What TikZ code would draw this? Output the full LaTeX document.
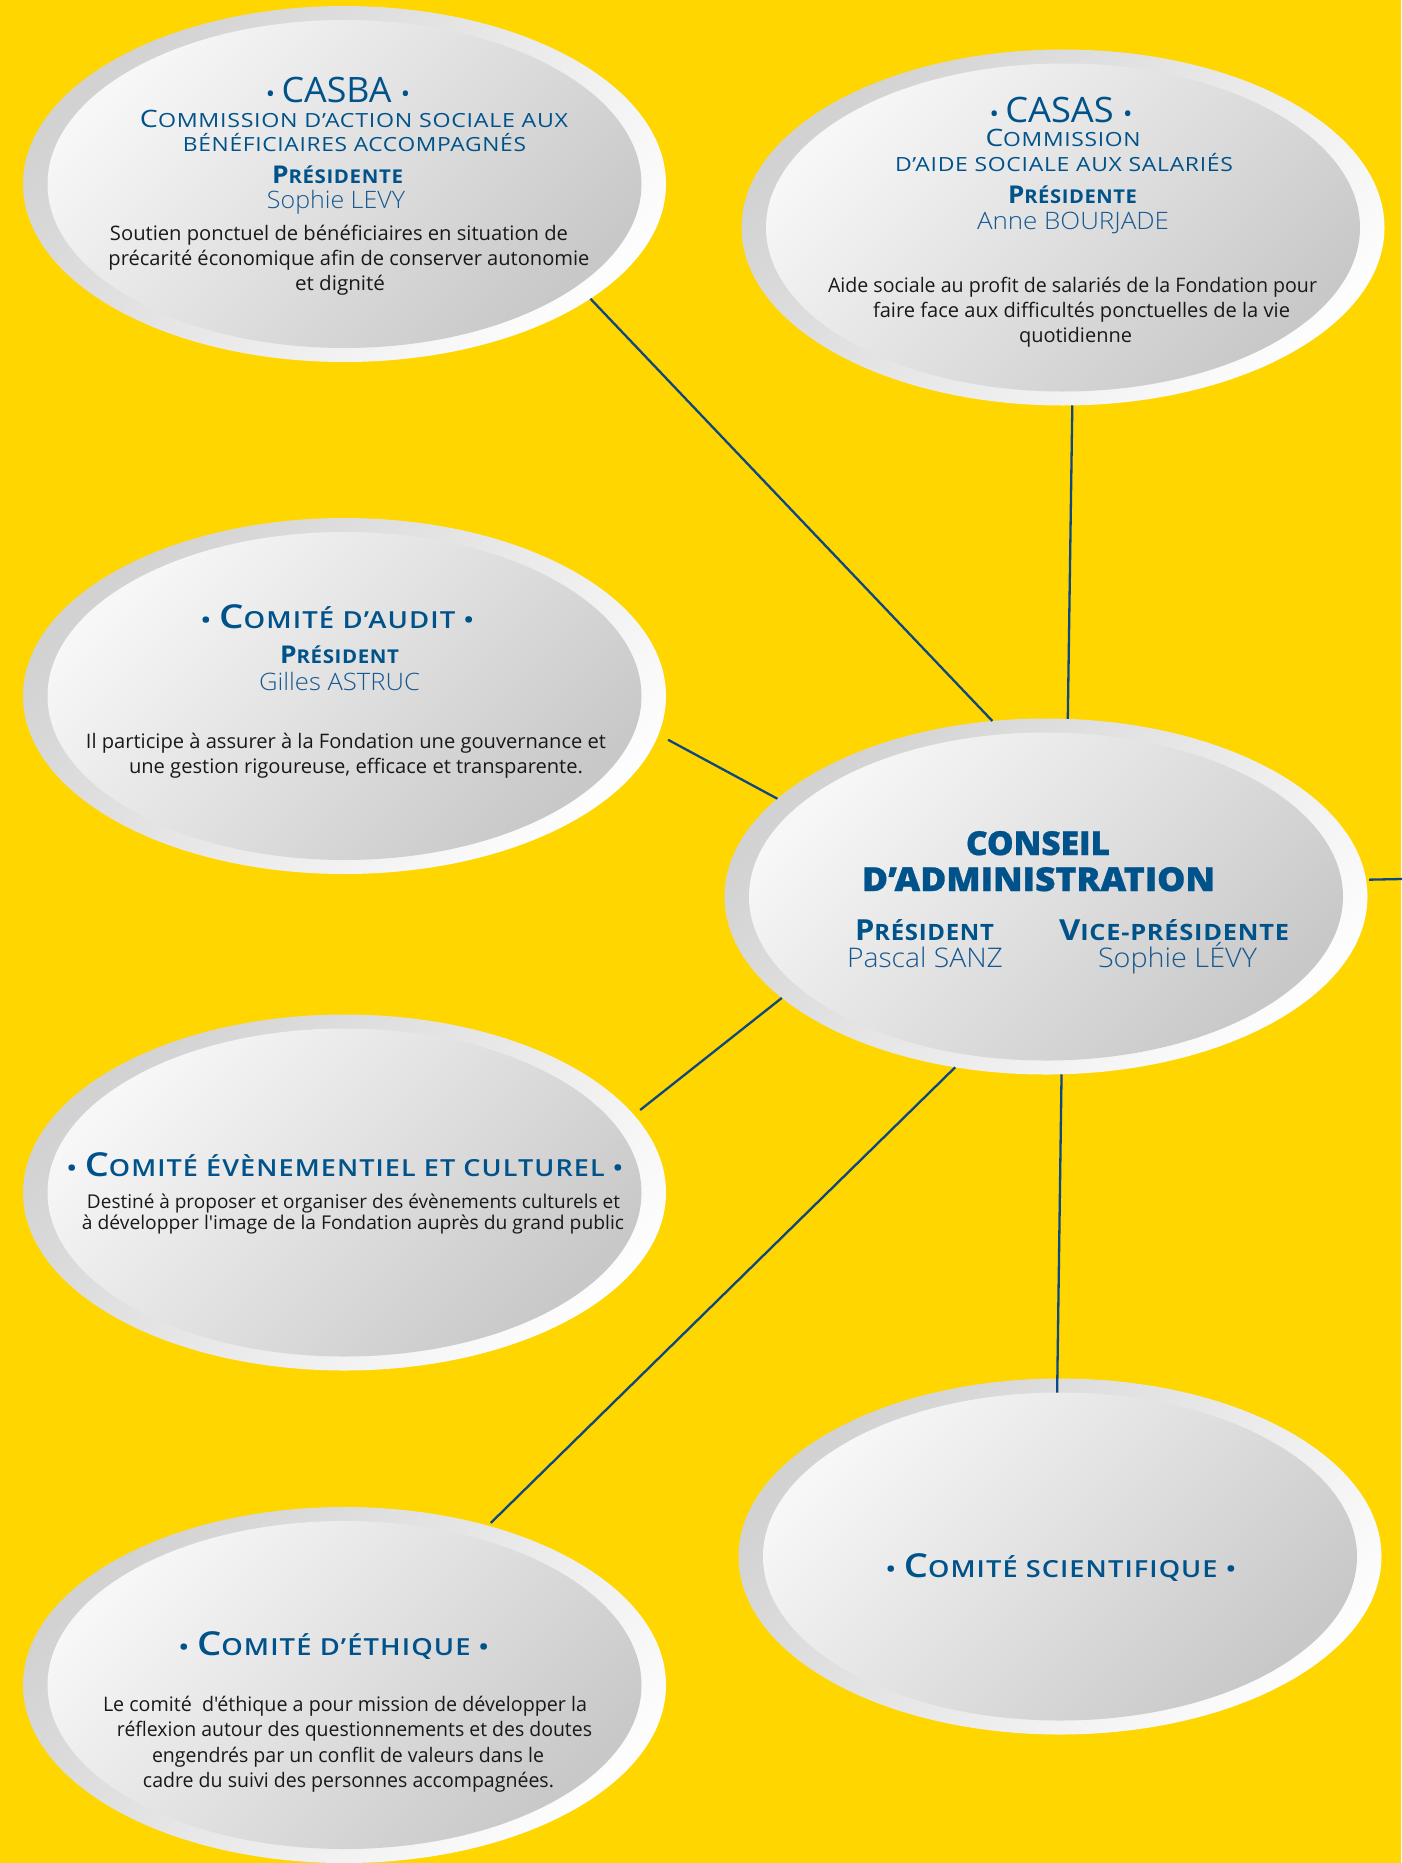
\documentclass[tikz,border=0pt]{standalone}
\usepackage{fontspec}
\usepackage{graphicx}
\usetikzlibrary{shapes.geometric}
\setmainfont{Open Sans}
\newfontfamily\bodyf{Open Sans}
\IfFontExistsTF{OpenSans-Light.ttf}{\newfontfamily\lightf{OpenSans-Light.ttf}}{%
  \IfFontExistsTF{OpenSans-Light.otf}{\newfontfamily\lightf{OpenSans-Light.otf}}{%
    \IfFontExistsTF{FiraSans-Light.otf}{\newfontfamily\lightf{FiraSans-Light.otf}}{\newfontfamily\lightf{Open Sans}}}}
\IfFontExistsTF{OpenSans-Semibold.ttf}{\newfontfamily\semif{OpenSans-Semibold.ttf}[LetterSpace=4]}{%
  \IfFontExistsTF{OpenSans-SemiBold.ttf}{\newfontfamily\semif{OpenSans-SemiBold.ttf}[LetterSpace=4]}{%
    \newfontfamily\semif{Open Sans}[FakeBold=0.8,LetterSpace=4]}}
\IfFontExistsTF{OpenSans-ExtraBold.ttf}{\newfontfamily\heavyf{OpenSans-ExtraBold.ttf}[FakeBold=0.9]\newcommand\heavy{\heavyf}}{%
  \IfFontExistsTF{OpenSans-ExtraBold.otf}{\newfontfamily\heavyf{OpenSans-ExtraBold.otf}[FakeBold=0.9]\newcommand\heavy{\heavyf}}{%
    \newfontfamily\heavyf{Open Sans}[BoldFeatures={FakeBold=2.2}]\newcommand\heavy{\heavyf\bfseries}}}
\newfontfamily\scf{Open Sans}[LetterSpace=3]
\newcommand\fs[1]{\fontsize{#1}{#1}\selectfont}
\newcommand\fitto[2]{\resizebox{#1pt}{\height}{#2}}
\definecolor{bgyellow}{RGB}{255,214,0}
\definecolor{headblue}{RGB}{0,82,138}
\definecolor{nameblue}{RGB}{22,88,145}
\definecolor{bodyc}{RGB}{25,25,25}
\definecolor{lineblue}{RGB}{14,72,128}
\definecolor{ringA}{RGB}{210,210,210}
\definecolor{ringB}{RGB}{253,253,253}
\definecolor{inA}{RGB}{247,247,247}
\definecolor{inB}{RGB}{200,200,200}
\tikzset{
  outerell/.style={ellipse, minimum width=643pt, minimum height=356pt, inner sep=0pt, outer sep=0pt,
    top color=ringA, bottom color=ringB, shading angle=45},
  innerell/.style={ellipse, minimum width=594pt, minimum height=328pt, inner sep=0pt, outer sep=0pt,
    top color=inA, bottom color=inB, shading angle=45},
  conn/.style={draw=lineblue, line width=2.3pt},
  tline/.style={anchor=base, inner sep=0pt, outer sep=0pt},
  hd/.style={tline, text=headblue},
  nm/.style={tline, text=nameblue},
  bd/.style={tline, text=bodyc, font=\bodyf\fs{20}},
}
\begin{document}
\begin{tikzpicture}[x=1pt,y=-1pt]
\useasboundingbox (0,0) rectangle (1401,1863);
\fill[bgyellow] (0,0) rectangle (1401,1863);
% ellipses
\node[outerell] (casba) at (344.5,184) {};
\node[innerell] (casbain) at (344.5,184) {};
\node[outerell] (casas) at (1063,227.5) {};
\node[innerell] (casasin) at (1063,227.5) {};
\node[outerell] (audit) at (344.5,696) {};
\node[innerell] (auditin) at (344.5,696) {};
\node[outerell] (ca) at (1046,896.5) {};
\node[innerell] (cain) at (1046,896.5) {};
\node[outerell] (even) at (344.5,1192.5) {};
\node[innerell] (evenin) at (344.5,1192.5) {};
\node[outerell] (sci) at (1060,1556.5) {};
\node[innerell] (sciin) at (1060,1556.5) {};
\node[outerell] (eth) at (344.5,1685) {};
\node[innerell] (ethin) at (344.5,1685) {};
% connectors
\draw[conn] (casba.-25.5) -- (ca.107.3);
\draw[conn] (casas.-87.1) -- (ca.83.6);
\draw[conn, shorten <=11pt] (audit.-7) -- (ca.160.6);
\draw[conn, shorten <=8pt] (even.15.4) -- (ca.201.5);
\draw[conn, shorten <=4pt] (eth.48.65) -- (ca.242.8);
\draw[conn] (sciin.91.7) -- (ca.-85.5);
\coordinate (stubend) at (1402,879);
\draw[conn, shorten <=3pt] (ca.3.1) -- (stubend);
% CASBA
\node[hd] (casbaT) at (338,102) {\fitto{144}{\fs{24}• \fs{35}CASBA \fs{24}•}};
\node[hd] (casbaS1) at (354,127) {\fitto{428}{\scf\fs{24}C\fs{19.5}OMMISSION D’ACTION SOCIALE AUX}};
\node[hd] (casbaS2) at (354.5,151) {\fitto{343}{\scf\fs{19.5}BÉNÉFICIAIRES ACCOMPAGNÉS}};
\node[hd] (casbaP) at (337.5,183) {\fitto{131}{\scf\bfseries\fs{24.5}P\fs{19}RÉSIDENTE}};
\node[nm] (casbaN) at (336,208) {\fitto{138}{\lightf\fs{24}Sophie LEVY}};
\node[bd] (casbaB1) at (339,240) {\fitto{458}{Soutien ponctuel de bénéficiaires en situation de}};
\node[bd] (casbaB2) at (349,265) {\fitto{481}{précarité économique afin de conserver autonomie}};
\node[bd] (casbaB3) at (340,290) {\fitto{90}{et dignité}};
% CASAS
\node[hd] (casasT) at (1061,122) {\fitto{143}{\fs{24}• \fs{35}CASAS \fs{24}•}};
\node[hd] (casasS1) at (1063,146) {\fitto{155}{\scf\fs{24}C\fs{19.5}OMMISSION}};
\node[hd] (casasS2) at (1064,171) {\fitto{338}{\scf\fs{19.5}D’AIDE SOCIALE AUX SALARIÉS}};
\node[hd] (casasP) at (1072.5,203) {\fitto{129}{\scf\bfseries\fs{24.5}P\fs{19}RÉSIDENTE}};
\node[nm] (casasN) at (1073,229) {\fitto{192}{\lightf\fs{24}Anne BOURJADE}};
\node[bd] (casasB1) at (1072.5,292) {\fitto{489}{Aide sociale au profit de salariés de la Fondation pour}};
\node[bd] (casasB2) at (1081.5,317) {\fitto{417}{faire face aux difficultés ponctuelles de la vie}};
\node[bd] (casasB3) at (1075.5,342) {\fitto{113}{quotidienne}};
% Comite d'audit
\node[hd] (auditT) at (337.5,628) {\fitto{273}{\semif\fs{23}• \fs{33}C\fs{23.5}OMITÉ D’AUDIT •}};
\node[hd] (auditP) at (339.5,663) {\fitto{119}{\scf\bfseries\fs{24.5}P\fs{19}RÉSIDENT}};
\node[nm] (auditN) at (339.5,690) {\fitto{161}{\lightf\fs{24}Gilles ASTRUC}};
\node[bd] (auditB1) at (346,748) {\fitto{520}{Il participe à assurer à la Fondation une gouvernance et}};
\node[bd] (auditB2) at (356,773) {\fitto{454}{une gestion rigoureuse, efficace et transparente.}};
% Conseil d'administration
\node[hd] (caT1) at (1038,855) {\fitto{144}{\heavy\fs{33}CONSEIL}};
\node[hd] (caT2) at (1038.5,891) {\fitto{353}{\heavy\fs{33}D’ADMINISTRATION}};
\node[hd] (caP) at (924.5,940) {\fitto{139}{\scf\bfseries\fs{29}P\fs{22.5}RÉSIDENT}};
\node[nm] (caPN) at (925,967) {\fitto{156}{\lightf\fs{27}Pascal SANZ}};
\node[hd] (caV) at (1174,940) {\fitto{230}{\scf\bfseries\fs{29}V\fs{22.5}ICE-PRÉSIDENTE}};
\node[nm] (caVN) at (1177.5,967) {\fitto{159}{\lightf\fs{27}Sophie LÉVY}};
% Comite evenementiel
\node[hd] (evenT) at (345,1176) {\fitto{556}{\semif\fs{23}• \fs{33}C\fs{23.5}OMITÉ ÉVÈNEMENTIEL ET CULTUREL •}};
\node[bd, font=\bodyf\fs{19}] (evenB1) at (353.5,1208) {\fitto{533}{Destiné à proposer et organiser des évènements culturels et}};
\node[bd, font=\bodyf\fs{19}] (evenB2) at (353,1229) {\fitto{542}{à développer l'image de la Fondation auprès du grand public}};
% Comite scientifique
\node[hd] (sciT) at (1061,1577) {\fitto{350}{\semif\fs{23}• \fs{33}C\fs{23.5}OMITÉ SCIENTIFIQUE •}};
% Comite d'ethique
\node[hd] (ethT) at (334,1655) {\fitto{310}{\semif\fs{23}• \fs{33}C\fs{23.5}OMITÉ D’ÉTHIQUE •}};
\node[bd] (ethB1) at (345,1711) {\fitto{484}{Le comité\ \ d'éthique a pour mission de développer la}};
\node[bd] (ethB2) at (354.5,1736) {\fitto{475}{réflexion autour des questionnements et des doutes}};
\node[bd] (ethB3) at (348,1762) {\fitto{392}{engendrés par un conflit de valeurs dans le}};
\node[bd] (ethB4) at (348.5,1787) {\fitto{411}{cadre du suivi des personnes accompagnées.}};
\end{tikzpicture}
\end{document}
